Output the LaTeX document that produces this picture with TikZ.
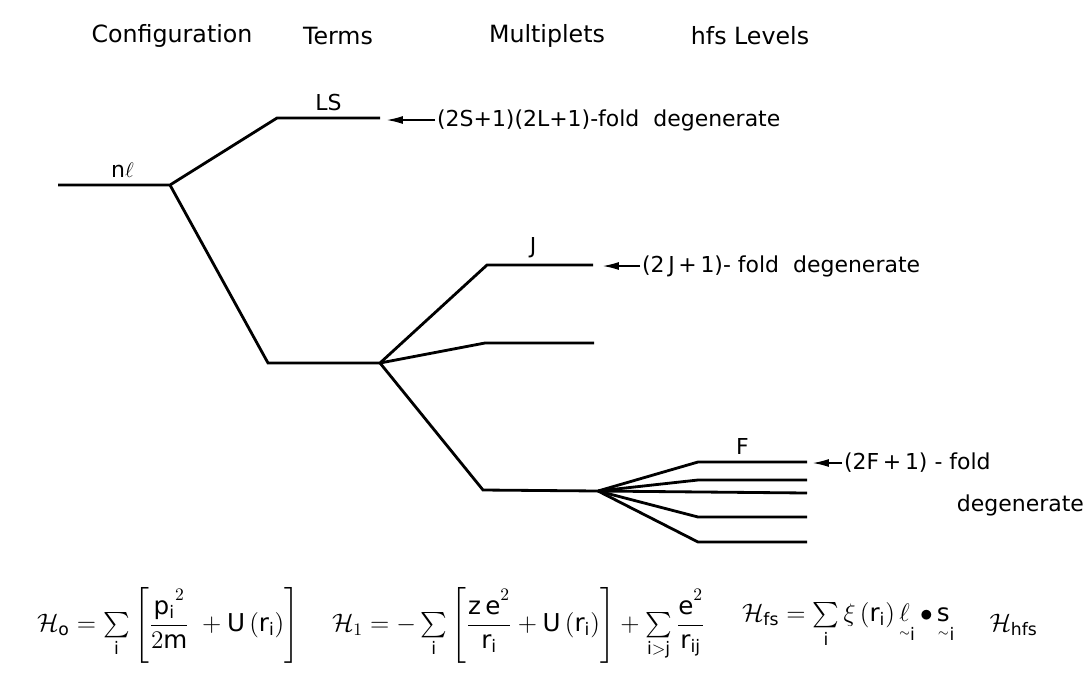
\documentclass[tikz,border=0pt]{standalone}
\usepackage{amsmath}
\usepackage{fontspec}
\setmainfont{DejaVu Sans}
\usetikzlibrary{arrows.meta, positioning}

\begin{document}
\begin{tikzpicture}[
  every node/.style = {font=\fontsize{12.5}{15}\selectfont, inner sep=1pt},
  level/.style   = {line width=1.6pt, line join=miter},
  pointer/.style = {-{Latex[length=9pt, width=4.5pt]}, line width=0.6pt},
  hdr/.style     = {font=\fontsize{13.5}{16}\selectfont},
  eqn/.style     = {font=\fontsize{14}{17}\selectfont, anchor=west},
  lbl/.style     = {anchor=south},
  deg/.style     = {anchor=west},
]
\useasboundingbox (0,0) rectangle (21.76,-13.5);

%% ══ COLUMN HEADERS ═══════════════════════════════════════════════════════
\node[hdr] (hconf) at (3.44, -0.72) {Configuration};
\node[hdr] (hterm) at (6.76, -0.72) {Terms};
\node[hdr] (hmult) at (10.94, -0.72) {Multiplets};
\node[hdr] (hhfs)  at (15.0, -0.72) {hfs Levels};

%% ══ LEVEL END POINTS ═════════════════════════════════════════════════════
\coordinate (nl0) at (1.16, -3.7);   \coordinate (nl1) at (3.4, -3.7);
\coordinate (ls0) at (5.54, -2.36);  \coordinate (ls1) at (7.6, -2.36);
\coordinate (tm0) at (5.36, -7.26);  \coordinate (tm1) at (7.6, -7.26);
\coordinate (j0)  at (9.74, -5.3);   \coordinate (j1)  at (11.86, -5.3);
\coordinate (m0)  at (9.7, -6.86);   \coordinate (m1)  at (11.88, -6.86);
\coordinate (lo0) at (9.66, -9.8);   \coordinate (lo1) at (11.96, -9.82);
\coordinate (f10) at (13.96, -9.24); \coordinate (f11) at (16.14, -9.24);
\coordinate (f20) at (13.96, -9.6);  \coordinate (f21) at (16.14, -9.6);
\coordinate (f31) at (16.14, -9.86);
\coordinate (f40) at (13.96, -10.34); \coordinate (f41) at (16.14, -10.34);
\coordinate (f50) at (13.96, -10.84); \coordinate (f51) at (16.14, -10.84);

%% ── splitting tree ────────────────────────────────────────────────────────
\draw[level] (nl0) -- (nl1) -- (ls0) -- (ls1);
\draw[level] (nl1) -- (tm0) -- (tm1) -- (j0) -- (j1);
\draw[level] (tm1) -- (m0) -- (m1);
\draw[level] (tm1) -- (lo0) -- (lo1) -- (f10) -- (f11);
\draw[level] (lo1) -- (f20) -- (f21);
\draw[level] (lo1) -- (f31);
\draw[level] (lo1) -- (f40) -- (f41);
\draw[level] (lo1) -- (f50) -- (f51);

%% ── level names ───────────────────────────────────────────────────────────
\node[lbl] (nlname) at (2.45, -3.6) {n$\ell$};
\node[lbl] (lsname) at (6.57, -2.26) {LS};
\node[lbl] (jname)  at (10.66, -5.2) {J};
\node[lbl] (fname)  at (14.85, -9.14) {F};

%% ══ DEGENERACY NOTES ═════════════════════════════════════════════════════
\node[deg] (lsdeg) at (8.7, -2.4)   {(2S+1)(2L+1)-fold\ \ degenerate};
\node[deg] (jdeg)  at (12.8, -5.32) {(2\,J\,+\,1)-\ fold\ \ degenerate};
\node[deg] (fdeg)  at (16.84, -9.26) {(2F\,+\,1) - fold};
\node[deg, anchor=east] (fdeg2) at (21.72, -10.1) {degenerate};

\coordinate (lstip) at (7.74, -2.4);
\coordinate (jtip)  at (12.06, -5.32);
\coordinate (ftip)  at (16.26, -9.26);
\draw[pointer] (lsdeg.west) -- (lstip);
\draw[pointer] (jdeg.west)  -- (jtip);
\draw[pointer] (fdeg.west)  -- (ftip);

%% ══ HAMILTONIANS ═════════════════════════════════════════════════════════
\node[eqn] (ham0) at (0.7, -12.5) {$
  \mathcal{H}_{\mathrm{o}} = \sum\limits_{\mathrm{i}}
  \left[\dfrac{\mathrm{p_i}^2}{2\mathrm{m}}\; + \mathrm{U}\,(\mathrm{r_i})\right]$};
\node[eqn] (ham1) at (6.6, -12.5) {$
  \mathcal{H}_{1} = -\sum\limits_{\mathrm{i}}
  \left[\dfrac{\mathrm{z\,e}^2}{\mathrm{r_i}} + \mathrm{U}\,(\mathrm{r_i})\right]
  + \sum\limits_{\mathrm{i>j}} \dfrac{\mathrm{e}^2}{\mathrm{r_{ij}}}$};
\node[eqn] (hamfs) at (14.8, -12.5) {$
  \mathcal{H}_{\mathrm{fs}} = \sum\limits_{\mathrm{i}} \xi\,(\mathrm{r_i})\,
  \underset{\scriptscriptstyle\sim}{\ell}_{\mathrm{i}}\,{\bullet}\,
  \underset{\scriptscriptstyle\sim}{\mathrm{s}}_{\mathrm{i}}$};
\node[eqn] (hamhfs) at (19.75, -12.5) {$\mathcal{H}_{\mathrm{hfs}}$};

\end{tikzpicture}
\end{document}
